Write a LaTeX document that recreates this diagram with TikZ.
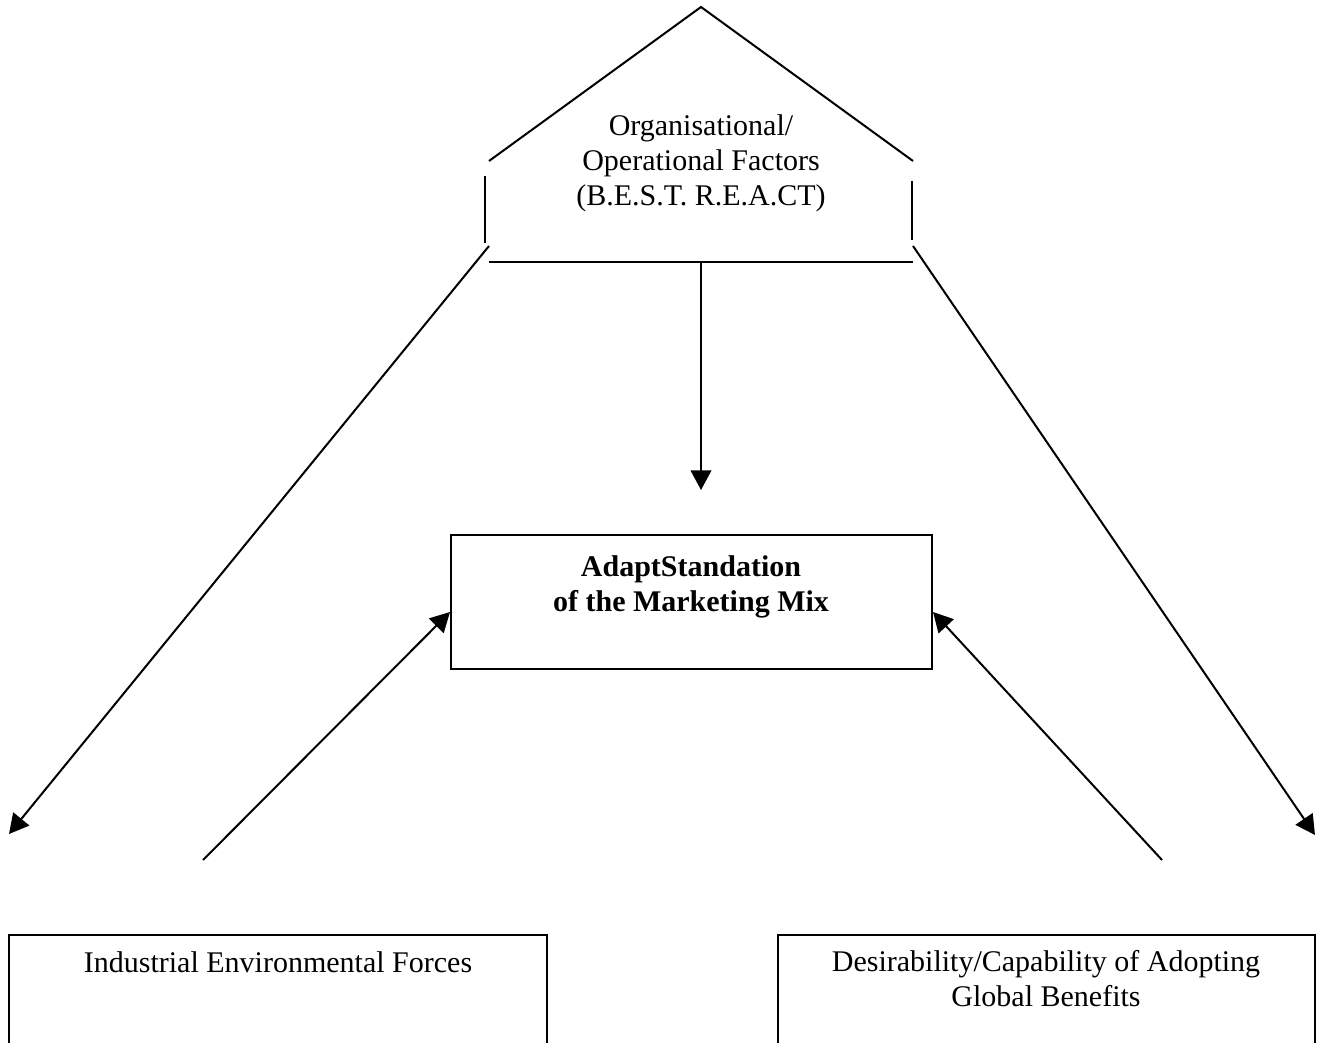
\documentclass[tikz,border=0pt]{standalone}
\usepackage{fontspec}
\setmainfont{Liberation Serif}
\usetikzlibrary{arrows.meta}
\begin{document}
\begin{tikzpicture}[x=0.4pt,y=-0.4pt,
  ln/.style={line width=0.8pt},
  arr/.style={ln,-{Triangle[length=7.8pt,width=8.2pt]}},
  txt/.style={font=\fontsize{12}{14}\selectfont,align=center,inner sep=0pt},
  box/.style={draw,line width=0.8pt}]
\clip (0,0) rectangle (1325,1043);
\fill[white] (0,0) rectangle (1325,1043);
% pentagon (house) shape
\coordinate (apex) at (701,7);
\coordinate (roofL) at (489,161);
\coordinate (roofR) at (913,161);
\coordinate (wallLt) at (485,176);
\coordinate (wallLb) at (485,243);
\coordinate (wallRt) at (912,181);
\coordinate (wallRb) at (912,240);
\coordinate (baseL) at (489,262);
\coordinate (baseR) at (913,262);
\coordinate (baseC) at (701,262);
\draw[ln] (roofL) -- (apex) -- (roofR);
\draw[ln] (wallLt) -- (wallLb);
\draw[ln] (wallRt) -- (wallRb);
\draw[ln] (baseL) -- (baseR);
\node[txt] (org) at (701,163) {Organisational/\\Operational Factors\\(B.E.S.T. R.E.A.CT)};
% middle box
\draw[box] (451,535) rectangle (932,669);
\coordinate (mixL) at (450,612);
\coordinate (mixR) at (933,612);
\node[txt,font=\fontsize{12}{14}\selectfont\bfseries] (mix) at (691,587) {AdaptStandation\\of the Marketing Mix};
% bottom boxes
\draw[box] (9,935) rectangle (547,1100);
\draw[box] (778,935) rectangle (1315,1100);
\node[txt] (ind) at (278,962) {Industrial Environmental Forces};
\node[txt] (des) at (1046,979) {Desirability/Capability of Adopting\\Global Benefits};
% arrows
\coordinate (downTip) at (701,490);
\draw[arr] (baseC) -- (downTip);
\coordinate (lStart) at (489,246);
\coordinate (lTip) at (9,834);
\draw[arr] (lStart) -- (lTip);
\coordinate (rStart) at (913,246);
\coordinate (rTip) at (1315,835);
\draw[arr] (rStart) -- (rTip);
\coordinate (indTop) at (203,860);
\draw[arr] (indTop) -- (mixL);
\coordinate (desTop) at (1162,860);
\draw[arr] (desTop) -- (mixR);
\end{tikzpicture}
\end{document}
